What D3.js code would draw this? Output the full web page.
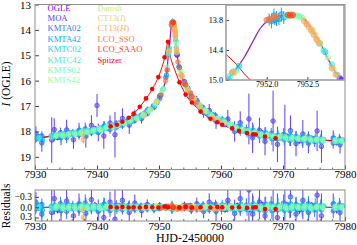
<!DOCTYPE html>
<html>
<head>
<meta charset="utf-8">
<script src="https://cdn.jsdelivr.net/npm/d3@7"></script>
<style>
  body { margin: 0; background: #fff; }
  text { font-family: "Liberation Serif", "Times New Roman", serif; }
</style>
</head>
<body>
<svg width="357" height="245"></svg>
<script>
// light curve data, [HJD-2450000, I mag, error, residual]
var names = ["OGLE", "MOA", "KMTA02", "KMTA42", "KMTC02", "KMTC42", "KMTS02", "KMTS42",
    "Danish", "CT13(I)", "CT13(H)", "LCO_SSO", "LCO_SAAO", "Spitzer"];

var ogle = [[7930.65,18.21,0.08,-0.05],[7933.65,18.24,0.10,0.08],[7935.65,18.06,0.08,-0.04],[7937.65,18.09,0.09,0.06],
    [7939.65,17.89,0.08,-0.06],[7941.65,17.88,0.07,0.03],[7943.65,17.67,0.07,-0.05],[7945.65,17.60,0.06,0.04],
    [7947.65,17.29,0.06,-0.03],[7949.65,16.86,0.05,0.02],[7952.90,14.97,0.03,0.03],[7954.65,16.30,0.05,-0.04],
    [7956.65,17.06,0.06,0.05],[7958.65,17.34,0.07,-0.06],[7960.65,17.73,0.08,0.07],[7962.65,17.82,0.08,-0.05],
    [7964.65,18.08,0.09,0.06],[7966.65,18.06,0.09,-0.07],[7968.65,18.25,0.10,0.05],[7970.65,18.19,0.10,-0.06],
    [7972.65,18.37,0.11,0.08],[7974.65,18.27,0.10,-0.05],[7978.65,18.43,0.12,0.06]];

var moa = [[7930.15,18.10,0.30,-0.14],[7931.10,18.45,0.35,0.20],[7932.70,18.34,0.90,0.15],[7933.10,17.93,0.45,-0.25],
    [7934.20,18.24,0.30,0.10],[7935.10,17.94,0.40,-0.18],[7936.20,18.33,0.35,0.25],[7937.10,17.96,0.30,-0.10],
    [7938.20,18.19,0.45,0.18],[7939.10,17.76,0.40,-0.22],[7940.00,16.98,0.45,-0.95],[7940.20,18.04,0.35,0.12],
    [7941.10,18.18,0.50,0.30],[7942.10,17.67,0.30,-0.15],[7942.90,18.13,0.90,0.35],[7944.10,17.49,0.40,-0.20],
    [7945.20,17.75,0.35,0.15],[7946.10,17.39,0.25,-0.12],[7947.20,17.49,0.20,0.10],[7948.10,17.17,0.15,-0.08],
    [7949.20,17.04,0.12,0.06],[7950.10,16.62,0.10,-0.05],[7952.92,15.00,0.05,0.05],[7954.10,16.04,0.10,-0.06],
    [7955.20,16.65,0.12,0.08],[7956.10,16.78,0.18,-0.10],[7957.20,17.26,0.20,0.12],[7958.10,17.17,0.25,-0.15],
    [7959.20,17.60,0.30,0.12],[7961.10,17.51,0.35,-0.20],[7962.20,18.00,0.40,0.18],[7963.10,17.66,0.45,-0.25],
    [7964.50,17.51,1.00,-0.50],[7965.10,18.25,0.60,0.20],[7966.20,17.96,0.50,-0.15],[7967.10,18.39,0.55,0.25],
    [7968.40,17.59,1.20,-0.60],[7969.10,18.51,0.70,0.30],[7970.30,18.25,1.30,0.00],[7971.20,17.97,0.60,-0.30],
    [7972.10,18.48,0.50,0.20],[7973.20,18.10,0.55,-0.20],[7974.10,18.46,0.40,0.15],[7975.50,17.98,0.80,-0.35],
    [7976.20,18.59,0.65,0.25],[7978.10,18.26,0.30,-0.10],[7979.20,18.52,0.35,0.15]];

var kmta02 = [[7930.1,18.31,0.15,0.05],[7931.1,18.17,0.18,-0.08],[7933.1,18.24,0.15,0.06],[7934.1,18.05,0.20,-0.10],
    [7935.1,18.24,0.22,0.12],[7936.1,18.05,0.15,-0.04],[7937.1,18.14,0.18,0.08],[7938.1,17.90,0.25,-0.12],
    [7939.1,18.04,0.15,0.06],[7941.1,17.80,0.20,-0.08],[7942.1,17.92,0.18,0.10],[7943.1,17.70,0.15,-0.06],
    [7944.1,17.76,0.14,0.07],[7945.1,17.56,0.12,-0.05],[7946.1,17.57,0.12,0.06],[7947.1,17.36,0.10,-0.04],
    [7948.1,17.30,0.10,0.05],[7949.1,16.99,0.08,-0.03],[7950.1,16.71,0.06,0.04],[7951.1,15.87,0.05,-0.03],
    [7952.1,13.80,0.10,0.05],[7954.1,16.14,0.08,0.04],[7955.1,16.49,0.08,-0.05],[7956.1,16.94,0.10,0.06],
    [7957.1,17.06,0.12,-0.06],[7958.1,17.39,0.12,0.07],[7959.1,17.38,0.14,-0.08],[7960.1,17.65,0.15,0.06],
    [7961.1,17.61,0.18,-0.10],[7963.1,17.99,0.18,0.08],[7964.1,17.93,0.20,-0.06],[7965.1,18.15,0.22,0.10],
    [7966.1,18.02,0.20,-0.08],[7967.1,18.26,0.25,0.12],[7968.1,18.08,0.22,-0.10],[7969.1,18.29,0.20,0.08],
    [7970.1,18.12,0.25,-0.12],[7971.1,18.36,0.22,0.10],[7972.1,18.20,0.20,-0.08],[7973.1,18.37,0.20,0.07],
    [7974.1,18.21,0.22,-0.10],[7975.1,18.41,0.20,0.08],[7976.1,18.29,0.18,-0.05],[7978.1,18.46,0.22,0.10],
    [7979.1,18.30,0.20,-0.07]];

var kmta42 = [[7930.2,18.20,0.16,-0.06],[7931.2,18.33,0.20,0.09],[7933.2,18.13,0.15,-0.05],[7934.2,18.22,0.18,0.08],
    [7935.2,18.01,0.20,-0.10],[7936.2,18.13,0.15,0.05],[7937.2,17.97,0.18,-0.08],[7938.2,18.11,0.22,0.10],
    [7939.2,17.92,0.15,-0.05],[7940.2,17.99,0.16,0.07],[7941.2,17.78,0.18,-0.09],[7943.2,17.82,0.14,0.06],
    [7944.2,17.61,0.14,-0.07],[7945.2,17.65,0.12,0.05],[7946.2,17.44,0.12,-0.06],[7947.2,17.43,0.10,0.04],
    [7948.2,17.18,0.09,-0.05],[7949.2,17.02,0.08,0.04],[7950.2,16.58,0.06,-0.03],[7951.2,15.78,0.05,0.03],
    [7952.03,13.79,0.12,-0.02],[7952.06,13.82,0.15,0.04],[7952.09,13.71,0.14,-0.05],[7952.12,13.77,0.15,0.03],
    [7952.15,13.78,0.12,0.06],[7952.18,13.69,0.14,-0.02],[7952.21,13.75,0.13,0.04],[7953.2,15.44,0.06,0.04],
    [7954.2,16.10,0.08,-0.04],[7955.2,16.62,0.09,0.05],[7956.2,16.84,0.10,-0.06],[7957.2,17.21,0.12,0.07],
    [7958.2,17.27,0.12,-0.06],[7959.2,17.56,0.14,0.08],[7960.2,17.53,0.15,-0.07],[7962.2,17.91,0.18,0.09],
    [7963.2,17.84,0.20,-0.08],[7964.2,18.06,0.18,0.07],[7965.2,17.95,0.22,-0.10],[7966.2,18.19,0.20,0.08],
    [7967.2,18.05,0.22,-0.09],[7968.2,18.29,0.24,0.10],[7969.2,18.15,0.20,-0.07],[7970.2,18.33,0.22,0.09],
    [7971.2,18.16,0.24,-0.10],[7972.2,18.34,0.20,0.06],[7973.2,18.22,0.22,-0.08],[7974.2,18.41,0.20,0.10],
    [7975.2,18.27,0.20,-0.06],[7976.2,18.42,0.18,0.08],[7978.2,18.27,0.22,-0.09],[7979.2,18.43,0.20,0.06]];

var kmtc02 = [[7930.6,18.29,0.08,0.03],[7932.6,18.17,0.08,-0.03],[7933.6,18.20,0.07,0.04],[7934.6,18.08,0.07,-0.05],
    [7935.6,18.13,0.07,0.03],[7936.6,18.03,0.07,-0.04],[7937.6,18.09,0.07,0.05],[7938.6,17.97,0.06,-0.03],
    [7939.6,18.00,0.06,0.04],[7940.6,17.86,0.06,-0.04],[7941.6,17.88,0.06,0.03],[7942.6,17.75,0.05,-0.04],
    [7943.6,17.76,0.05,0.03],[7944.6,17.62,0.05,-0.03],[7945.6,17.60,0.05,0.04],[7946.6,17.43,0.05,-0.03],
    [7947.6,17.36,0.04,0.03],[7948.6,17.12,0.04,-0.02],[7949.6,16.88,0.04,0.03],[7950.6,16.35,0.03,-0.02],
    [7951.53,14.99,0.02,0.02],[7951.58,14.85,0.02,-0.02],[7951.66,14.72,0.02,0.02],[7952.65,14.27,0.02,0.03],
    [7952.72,14.44,0.02,-0.02],[7953.6,15.79,0.03,0.03],[7954.6,16.31,0.03,-0.03],[7955.6,16.74,0.04,0.03],
    [7956.6,16.97,0.04,-0.03],[7957.6,17.25,0.04,0.03],[7958.6,17.35,0.05,-0.04],[7959.6,17.56,0.05,0.03],
    [7960.6,17.61,0.05,-0.04],[7961.6,17.80,0.06,0.04],[7962.6,17.83,0.06,-0.03],[7963.6,17.99,0.06,0.04],
    [7964.6,17.98,0.06,-0.04],[7965.6,18.11,0.07,0.03],[7966.6,18.08,0.07,-0.04],[7967.6,18.20,0.07,0.04],
    [7968.6,18.17,0.07,-0.03],[7969.6,18.27,0.08,0.04],[7970.6,18.21,0.08,-0.04],[7971.6,18.30,0.08,0.03],
    [7972.6,18.25,0.08,-0.04],[7973.6,18.34,0.08,0.04],[7974.6,18.29,0.08,-0.03],[7975.6,18.37,0.08,0.04],
    [7976.6,18.32,0.08,-0.03],[7978.6,18.41,0.08,0.04],[7979.6,18.34,0.08,-0.04]];

var kmtc42 = [[7930.7,18.23,0.08,-0.03],[7932.7,18.23,0.08,0.04],[7933.7,18.13,0.07,-0.03],[7934.7,18.18,0.07,0.05],
    [7935.7,18.06,0.07,-0.04],[7936.7,18.10,0.07,0.03],[7937.7,17.98,0.07,-0.05],[7938.7,18.03,0.06,0.04],
    [7939.7,17.92,0.06,-0.03],[7940.7,17.95,0.06,0.05],[7941.7,17.81,0.06,-0.03],[7942.7,17.83,0.05,0.04],
    [7943.7,17.68,0.05,-0.04],[7944.7,17.67,0.05,0.03],[7945.7,17.51,0.05,-0.04],[7946.7,17.48,0.05,0.03],
    [7947.7,17.28,0.04,-0.03],[7948.7,17.13,0.04,0.02],[7949.7,16.79,0.04,-0.03],[7950.7,16.31,0.03,0.02],
    [7951.55,14.92,0.02,-0.01],[7951.62,14.81,0.02,0.02],[7952.70,14.41,0.02,0.02],[7952.80,14.69,0.02,-0.02],
    [7952.87,14.90,0.02,0.02],[7953.7,15.77,0.03,-0.03],[7954.7,16.40,0.03,0.03],[7955.7,16.72,0.04,-0.03],
    [7956.7,17.07,0.04,0.04],[7957.7,17.21,0.04,-0.03],[7958.7,17.45,0.05,0.04],[7959.7,17.50,0.05,-0.04],
    [7960.7,17.69,0.05,0.03],[7961.7,17.73,0.06,-0.04],[7962.7,17.91,0.06,0.04],[7963.7,17.93,0.06,-0.03],
    [7964.7,18.06,0.06,0.04],[7965.7,18.04,0.07,-0.04],[7966.7,18.16,0.07,0.03],[7967.7,18.13,0.07,-0.04],
    [7968.7,18.24,0.07,0.04],[7969.7,18.20,0.08,-0.03],[7970.7,18.29,0.08,0.04],[7971.7,18.23,0.08,-0.04],
    [7972.7,18.32,0.08,0.03],[7973.7,18.26,0.08,-0.04],[7974.7,18.36,0.08,0.04],[7975.7,18.30,0.08,-0.03],
    [7978.7,18.40,0.08,0.03],[7979.7,18.34,0.08,-0.04]];

var kmts02 = [[7933.35,18.20,0.05,0.03],[7934.35,18.11,0.05,-0.03],[7935.35,18.14,0.05,0.03],[7936.35,18.05,0.05,-0.03],
    [7937.35,18.08,0.05,0.03],[7938.35,17.98,0.05,-0.03],[7939.35,18.00,0.05,0.03],[7940.35,17.89,0.05,-0.02],
    [7941.35,17.89,0.05,0.03],[7942.35,17.78,0.04,-0.03],[7943.35,17.77,0.04,0.02],[7944.35,17.64,0.04,-0.03],
    [7945.35,17.62,0.04,0.03],[7946.35,17.46,0.04,-0.02],[7947.35,17.39,0.04,0.02],[7948.35,17.17,0.03,-0.02],
    [7949.35,16.96,0.03,0.02],[7950.35,16.51,0.03,-0.02],[7951.35,15.47,0.02,0.02],[7952.24,13.71,0.02,0.01],
    [7952.28,13.69,0.02,-0.01],[7952.32,13.71,0.02,0.01],[7952.36,13.71,0.02,0.01],[7952.41,13.73,0.02,-0.01],
    [7953.35,15.57,0.02,0.02],[7954.35,16.19,0.03,-0.02],[7955.35,16.64,0.03,0.02],[7956.35,16.92,0.03,-0.02],
    [7957.35,17.19,0.04,0.02],[7958.35,17.33,0.04,-0.02],[7959.35,17.52,0.04,0.02],[7960.35,17.59,0.04,-0.03],
    [7961.35,17.77,0.05,0.03],[7962.35,17.82,0.05,-0.02],[7963.35,17.96,0.05,0.03],[7964.35,17.97,0.05,-0.03],
    [7965.35,18.08,0.05,0.02],[7966.35,18.08,0.05,-0.03],[7967.35,18.18,0.05,0.03],[7968.35,18.17,0.05,-0.02],
    [7969.35,18.25,0.05,0.03],[7970.35,18.21,0.05,-0.03],[7971.35,18.30,0.05,0.03],[7972.35,18.26,0.05,-0.02],
    [7973.35,18.33,0.05,0.03],[7974.35,18.28,0.05,-0.03],[7975.35,18.35,0.05,0.02],[7976.35,18.31,0.05,-0.03],
    [7978.35,18.39,0.05,0.03],[7979.35,18.35,0.05,-0.02]];

var kmts42 = [[7933.42,18.14,0.05,-0.03],[7934.42,18.18,0.05,0.04],[7935.42,18.09,0.05,-0.02],[7936.42,18.12,0.05,0.04],
    [7937.42,18.02,0.05,-0.03],[7938.42,18.04,0.05,0.03],[7939.42,17.93,0.05,-0.04],[7940.42,17.94,0.05,0.03],
    [7941.42,17.83,0.05,-0.03],[7942.42,17.83,0.04,0.03],[7943.42,17.72,0.04,-0.02],[7944.42,17.70,0.04,0.03],
    [7945.42,17.55,0.04,-0.03],[7946.42,17.50,0.04,0.02],[7947.42,17.34,0.04,-0.02],[7948.42,17.20,0.03,0.02],
    [7949.42,16.90,0.03,-0.02],[7950.42,16.51,0.03,0.02],[7952.26,13.72,0.02,0.02],[7952.30,13.69,0.02,-0.01],
    [7952.34,13.72,0.02,0.02],[7952.38,13.72,0.02,0.01],[7952.44,13.76,0.02,-0.01],[7953.42,15.60,0.02,-0.02],
    [7954.42,16.26,0.03,0.02],[7955.42,16.63,0.03,-0.02],[7956.42,16.99,0.03,0.03],[7957.42,17.16,0.04,-0.02],
    [7958.42,17.39,0.04,0.03],[7959.42,17.49,0.04,-0.02],[7960.42,17.66,0.04,0.03],[7961.42,17.71,0.05,-0.03],
    [7962.42,17.87,0.05,0.03],[7963.42,17.91,0.05,-0.02],[7964.42,18.03,0.05,0.03],[7965.42,18.03,0.05,-0.03],
    [7966.42,18.14,0.05,0.03],[7967.42,18.13,0.05,-0.03],[7968.42,18.22,0.05,0.03],[7969.42,18.20,0.05,-0.02],
    [7970.42,18.27,0.05,0.03],[7971.42,18.24,0.05,-0.03],[7972.42,18.30,0.05,0.02],[7973.42,18.27,0.05,-0.03],
    [7974.42,18.34,0.05,0.03],[7975.42,18.31,0.05,-0.02],[7976.42,18.37,0.05,0.03],[7978.42,18.33,0.05,-0.03],
    [7979.42,18.39,0.05,0.02]];

var danish = [[7948.65,17.15,0.03,0.02],[7949.65,16.82,0.03,-0.02],[7950.65,16.35,0.03,0.02],[7952.55,14.00,0.02,0.02],
    [7952.60,14.09,0.02,-0.02],[7952.66,14.28,0.02,0.01],[7952.75,14.55,0.02,-0.02],[7952.82,14.79,0.02,0.02],
    [7953.65,15.76,0.02,-0.02],[7954.65,16.36,0.03,0.02],[7955.65,16.71,0.03,-0.02],[7956.65,17.03,0.03,0.02],
    [7957.65,17.21,0.04,-0.02],[7958.65,17.42,0.04,0.02],[7960.65,17.64,0.04,-0.02]];

var ct13i = [[7937.70,18.12,0.06,0.08],[7947.60,17.36,0.04,0.03],[7949.60,16.82,0.03,-0.03],[7951.60,14.86,0.02,0.03],
    [7952.50,13.89,0.02,0.02],[7952.56,13.99,0.02,-0.02],[7952.62,14.20,0.02,0.03],[7953.60,15.79,0.03,0.03],
    [7955.60,16.68,0.03,-0.03],[7958.80,17.46,0.04,0.04]];

var ct13h = [[7937.80,18.33,0.15,0.30],[7951.58,14.84,0.02,-0.03],[7952.46,13.82,0.02,0.03],[7952.49,13.88,0.02,0.03],
    [7952.52,13.95,0.02,0.03],[7952.55,14.02,0.02,0.04],[7952.58,14.10,0.02,0.04],[7952.61,14.18,0.02,0.03],
    [7952.64,14.25,0.02,0.03],[7952.80,14.76,0.02,0.04],[7952.85,14.89,0.02,0.04],[7953.55,15.77,0.03,0.04],
    [7953.70,15.85,0.03,0.05],[7954.60,16.38,0.03,0.05],[7955.60,16.75,0.04,0.04],[7956.60,17.05,0.04,0.05],
    [7958.80,17.48,0.05,0.06],[7959.60,17.58,0.05,0.05]];

var lcoSso = [[7951.05,16.00,0.02,0.02],[7952.00,13.80,0.02,-0.03],[7952.04,13.78,0.02,-0.02],[7952.08,13.75,0.02,-0.02],
    [7952.12,13.73,0.02,-0.01],[7953.05,15.26,0.02,0.02],[7954.05,16.09,0.02,0.02],[7955.05,16.50,0.02,-0.02],
    [7956.05,16.88,0.03,0.02]];

var lcoSaao = [[7950.30,16.58,0.02,0.02],[7951.30,15.58,0.02,-0.02],[7952.26,13.70,0.02,0.00],[7952.29,13.71,0.02,0.01],
    [7952.32,13.70,0.02,0.00],[7953.30,15.48,0.02,0.02],[7954.30,16.17,0.02,-0.02],[7955.30,16.63,0.02,0.02]];

var spitzer = [[7942.2,17.80,0.02,-0.01],[7943.2,17.74,0.02,0.01],[7944.1,17.62,0.02,-0.01],[7945.1,17.46,0.02,0.01],
    [7945.9,17.30,0.02,0.00],[7946.9,17.03,0.02,0.01],[7947.9,16.70,0.02,-0.01],[7948.9,16.33,0.02,0.00],
    [7949.9,15.86,0.02,0.01],[7950.9,15.08,0.02,-0.02],[7951.45,14.47,0.02,0.00],[7953.3,16.06,0.02,0.01],
    [7954.3,16.55,0.02,-0.01],[7955.3,16.86,0.02,0.01],[7956.7,17.22,0.02,0.00],[7958.3,17.50,0.02,0.01],
    [7959.4,17.64,0.02,-0.01],[7960.2,17.74,0.02,0.00],[7961.8,17.88,0.02,0.01],[7962.9,17.98,0.02,0.00],
    [7964.2,18.06,0.02,0.02],[7965.2,18.11,0.02,0.01],[7965.6,18.12,0.02,0.00],[7967.1,18.20,0.02,0.05],
    [7968.8,18.27,0.02,0.05]];

// best-fit model curves, [HJD-2450000, I mag]
var groundModel = [[7930,18.28],[7931,18.25],[7932,18.22],[7933,18.18],[7934,18.15],[7935,18.12],[7936,18.09],
    [7937,18.06],[7938,18.02],[7939,17.98],[7940,17.93],[7941,17.88],[7942,17.83],[7943,17.77],[7944,17.70],
    [7945,17.62],[7946,17.52],[7947,17.42],[7948,17.27],[7949,17.05],[7950,16.72],[7950.5,16.45],[7951,16.05],
    [7951.3,15.60],[7951.45,15.15],[7951.53,14.97],[7951.63,14.77],[7951.73,14.53],[7951.84,14.20],[7951.92,13.97],
    [7952.0,13.83],[7952.13,13.73],[7952.25,13.70],[7952.37,13.70],[7952.47,13.80],[7952.57,14.03],[7952.68,14.33],
    [7952.76,14.60],[7952.84,14.83],[7952.92,14.97],[7953.1,15.30],[7953.5,15.70],[7954,16.05],[7955,16.50],
    [7956,16.85],[7957,17.10],[7958,17.30],[7959,17.45],[7960,17.58],[7961,17.70],[7962,17.80],[7963,17.90],
    [7964,17.98],[7965,18.04],[7966,18.10],[7967,18.14],[7968,18.18],[7969,18.21],[7970,18.24],[7972,18.28],
    [7974,18.31],[7976,18.34],[7978,18.36],[7980,18.38]];

var spitzerModel = [[7930,18.27],[7934,18.13],[7938,18.00],[7940,17.92],[7942,17.82],[7943,17.76],[7944,17.64],
    [7945,17.48],[7946,17.28],[7947,17.00],[7948,16.68],[7949,16.30],[7950,15.80],[7950.5,15.45],[7951,15.00],
    [7951.25,14.65],[7951.45,14.45],[7951.55,14.56],[7951.8,15.00],[7952.0,15.20],[7952.5,15.55],[7953.2,16.00],
    [7954.5,16.62],[7956,17.05],[7957.8,17.42],[7960,17.72],[7962,17.90],[7964,18.04],[7966,18.14],[7968,18.24],
    [7970,18.30],[7974,18.34],[7980,18.38]];

var magTicks = [13, 14, 15, 16, 17, 18, 19];
var timeTicks = [7930, 7940, 7950, 7960, 7970, 7980];
var residTicks = [-0.3, 0.0, 0.3];
var insetMagTicks = [13.8, 14.4, 15.0];
var insetTimeTicks = [7952.0, 7952.5];

var series = [ogle, moa, kmta02, kmta42, kmtc02, kmtc42, kmts02, kmts42, danish, ct13i, ct13h, lcoSso, lcoSaao, spitzer];

// rainbow colours, one per data set
var colours = ["#8000ff", "#583dfd", "#3177f8", "#0aa9ee", "#1dd2e2", "#45eed2", "#6cfdbf", "#93fda9",
    "#baee91", "#e2d277", "#ffa95a", "#ff773d", "#ff3d1f", "#ff0000"];

var svg = d3.select("svg");
var frameColour = "#8c8c8c";

var x = d3.scaleLinear().domain([7930, 7980]).range([35, 345]);
var y = d3.scaleLinear().domain([13, 19.5]).range([4.5, 169.5]);
var yr = d3.scaleLinear().domain([-0.5, 0.4]).range([190, 221]);
var xi = d3.scaleLinear().domain([7951.5, 7952.95]).range([226, 344]);
var yi = d3.scaleLinear().domain([13.5, 15.0]).range([5, 80]);

var defs = svg.append("defs");
function addClip(id, xs, ys) {
    defs.append("clipPath").attr("id", id).append("rect")
        .attr("x", xs.range()[0]).attr("y", ys.range()[0])
        .attr("width", xs.range()[1] - xs.range()[0])
        .attr("height", ys.range()[1] - ys.range()[0]);
}
addClip("clipMain", x, y);
addClip("clipRes", x, yr);
addClip("clipInset", xi, yi);

// draw the model lines, the data sets (error bars + circles) and spitzer on top
function drawPanel(g, xs, ys, col, r, withModels) {
    if (withModels) {
        var line = d3.line().x(d => xs(d[0])).y(d => ys(d[1])).curve(d3.curveMonotoneX);
        g.append("path").attr("d", line(groundModel))
            .attr("fill", "none").attr("stroke", "#9a1aa8").attr("stroke-width", 1.2);
        g.append("path").attr("d", line(spitzerModel))
            .attr("fill", "none").attr("stroke", "#ff0000").attr("stroke-width", 1);
    } else {
        g.append("line").attr("x1", xs.range()[0]).attr("x2", xs.range()[1])
            .attr("y1", ys(0)).attr("y2", ys(0))
            .attr("stroke", "#333").attr("stroke-width", 1);
    }
    series.forEach(function (s, i) {
        if (names[i] === "Spitzer") return;
        var grp = g.append("g");
        grp.selectAll("line").data(s).enter().append("line")
            .attr("x1", d => xs(d[0])).attr("x2", d => xs(d[0]))
            .attr("y1", d => ys(d[col] - d[2])).attr("y2", d => ys(d[col] + d[2]))
            .attr("stroke", colours[i]).attr("stroke-width", 1);
        grp.selectAll("circle").data(s).enter().append("circle")
            .attr("cx", d => xs(d[0])).attr("cy", d => ys(d[col]))
            .attr("r", r)
            .attr("fill", colours[i]).attr("fill-opacity", 0.55)
            .attr("stroke", colours[i]).attr("stroke-width", 0.7);
    });
    g.append("g").selectAll("circle").data(spitzer).enter().append("circle")
        .attr("cx", d => xs(d[0])).attr("cy", d => ys(d[col]))
        .attr("r", r)
        .attr("fill", colours[13]);
}

function frame(xs, ys, width, colour) {
    svg.append("rect")
        .attr("x", xs.range()[0]).attr("y", ys.range()[0])
        .attr("width", xs.range()[1] - xs.range()[0])
        .attr("height", ys.range()[1] - ys.range()[0])
        .attr("fill", "none").attr("stroke", colour).attr("stroke-width", width);
}

function styleAxis(a, size) {
    a.select(".domain").remove();
    a.selectAll(".tick line").attr("stroke", "#444");
    a.selectAll("text").style("font-family", "'Liberation Serif', serif").style("font-size", size + "px").attr("fill", "#000");
}

// main light curve panel
var mainG = svg.append("g").attr("clip-path", "url(#clipMain)");
drawPanel(mainG, x, y, 1, 2.3, true);

// residual panel
var resG = svg.append("g").attr("clip-path", "url(#clipRes)");
drawPanel(resG, x, yr, 3, 2.3, false);

// axes for the two panels
var fmt = d3.format("d");
var axB = svg.append("g").attr("transform", "translate(0," + y.range()[1] + ")")
    .call(d3.axisBottom(x).tickValues(timeTicks).tickFormat(fmt).tickSize(-4).tickPadding(1));
styleAxis(axB, 11);
var axL = svg.append("g").attr("transform", "translate(" + x.range()[0] + ",0)")
    .call(d3.axisLeft(y).tickValues(magTicks).tickFormat(fmt).tickSize(-4).tickPadding(4));
styleAxis(axL, 11);
var axRB = svg.append("g").attr("transform", "translate(0," + yr.range()[1] + ")")
    .call(d3.axisBottom(x).tickValues(timeTicks).tickFormat(fmt).tickSize(-4).tickPadding(1.5));
styleAxis(axRB, 11);
var axRL = svg.append("g").attr("transform", "translate(" + x.range()[0] + ",0)")
    .call(d3.axisLeft(yr).tickValues(residTicks).tickFormat(d3.format(".1f")).tickSize(-4).tickPadding(3));
styleAxis(axRL, 9.5);
axRL.selectAll("text").attr("dy", function (d) { return d > 0.2 ? "0.22em" : "0.32em"; });

// minor time ticks every two days
var minor = d3.range(7932, 7980, 2).filter(t => t % 10 !== 0);
[y.range()[1], yr.range()[1]].forEach(function (yb) {
    svg.append("g").selectAll("line").data(minor).enter().append("line")
        .attr("x1", d => x(d)).attr("x2", d => x(d))
        .attr("y1", yb).attr("y2", yb - 2)
        .attr("stroke", "#444").attr("stroke-width", 0.8);
});

frame(x, y, 1, frameColour);
frame(x, yr, 1, frameColour);

// legend, two columns of coloured names
var legend = svg.append("g").attr("class", "legend");
names.forEach(function (n, i) {
    var colIdx = i < 8 ? 0 : 1;
    var row = i < 8 ? i : i - 8;
    var t = legend.append("text")
        .attr("x", colIdx === 0 ? 47.5 : 97.5)
        .attr("y", 10.5 + row * 10.4)
        .attr("fill", colours[i])
        .style("font-size", "8.6px");
    var m = n.match(/^(.*\()(.)(\))$/);
    if (m) {
        t.append("tspan").text(m[1]);
        t.append("tspan").style("font-style", "italic").text(m[2]);
        t.append("tspan").text(m[3]);
    } else {
        t.text(n);
    }
});

// zoom-in inset around the peak
svg.append("rect")
    .attr("x", xi.range()[0]).attr("y", yi.range()[0])
    .attr("width", xi.range()[1] - xi.range()[0])
    .attr("height", yi.range()[1] - yi.range()[0])
    .attr("fill", "#fff");
var insetG = svg.append("g").attr("clip-path", "url(#clipInset)");
drawPanel(insetG, xi, yi, 1, 2.8, true);

var axIB = svg.append("g").attr("transform", "translate(0," + yi.range()[1] + ")")
    .call(d3.axisBottom(xi).tickValues(insetTimeTicks).tickFormat(d3.format(".1f")).tickSize(-3).tickPadding(1));
styleAxis(axIB, 8.2);
var axIL = svg.append("g").attr("transform", "translate(" + xi.range()[0] + ",0)")
    .call(d3.axisLeft(yi).tickValues(insetMagTicks).tickFormat(d3.format(".1f")).tickSize(-3).tickPadding(3));
styleAxis(axIL, 8.2);
frame(xi, yi, 1.5, "#9a9a9a");

// axis titles
var yTitle = svg.append("text")
    .attr("transform", "translate(10,84) rotate(-90)")
    .attr("text-anchor", "middle")
    .style("font-size", "11.5px");
yTitle.append("tspan").style("font-style", "italic").text("I");
yTitle.append("tspan").text(" (OGLE)");

svg.append("text")
    .attr("transform", "translate(10,206) rotate(-90)")
    .attr("text-anchor", "middle")
    .style("font-size", "11.5px")
    .text("Residuals");

svg.append("text")
    .attr("x", 190).attr("y", 241.5)
    .attr("text-anchor", "middle")
    .style("font-size", "12px")
    .text("HJD-2450000");
</script>
</body>
</html>
